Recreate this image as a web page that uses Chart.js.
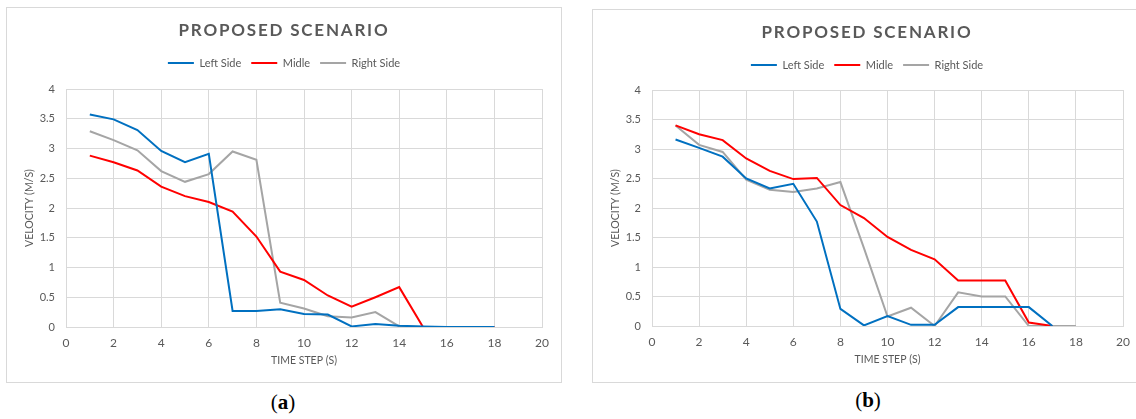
<!DOCTYPE html>
<html>
<head>
  <meta charset="UTF-8" />
  <title>Proposed Scenario - Velocity</title>
  <script src="https://cdn.jsdelivr.net/npm/chart.js"></script>
  <style>
    body {
      margin: 0;
      width: 1136px;
      height: 419px;
      overflow: hidden;
      background: #ffffff;
      position: relative;
      font-family: Lato, sans-serif;
    }
    .panel {
      position: absolute;
      border: 1px solid #d9d9d9;
      box-sizing: border-box;
    }
    .caption {
      position: absolute;
      width: 100px;
      text-align: center;
      font-family: "Liberation Serif", serif;
      font-size: 21px;
      line-height: 24px;
      color: #000;
    }
  </style>
</head>
<body>
  <div class="panel" style="left:6px; top:7px; width:556px; height:376px;"><canvas id="chartA"></canvas></div>
  <div class="panel" style="left:592px; top:9px; width:550px; height:374px;"><canvas id="chartB"></canvas></div>
  <div class="caption" style="left:233px; top:390px;">(<b>a</b>)</div>
  <div class="caption" style="left:818px; top:388px;">(<b>b</b>)</div>

  <script>
    // time steps (s)
    const steps = [1, 2, 3, 4, 5, 6, 7, 8, 9, 10, 11, 12, 13, 14, 15, 16, 17, 18];
    const seriesNames = ['Left Side', 'Midle', 'Right Side'];
    const seriesColors = ['#0070c0', '#ff0000', '#a5a5a5'];

    // (a) velocities (m/s)
    const leftA  = [3.57, 3.49, 3.31, 2.96, 2.77, 2.91, 0.27, 0.27, 0.30, 0.22, 0.21, 0.01, 0.05, 0.02, 0.01, 0, 0, 0];
    const midA   = [2.88, 2.77, 2.63, 2.36, 2.20, 2.10, 1.94, 1.52, 0.93, 0.79, 0.53, 0.34, 0.50, 0.67, 0, 0, 0, 0];
    const rightA = [3.29, 3.14, 2.97, 2.62, 2.44, 2.57, 2.95, 2.81, 0.41, 0.31, 0.18, 0.16, 0.25, 0.01, 0, 0, 0, 0];

    // (b) velocities (m/s)
    const leftB  = [3.16, 3.02, 2.87, 2.50, 2.33, 2.41, 1.77, 0.29, 0.01, 0.17, 0.02, 0.02, 0.32, 0.32, 0.32, 0.32, 0];
    const midB   = [3.40, 3.25, 3.15, 2.84, 2.63, 2.49, 2.51, 2.05, 1.83, 1.51, 1.29, 1.13, 0.77, 0.77, 0.77, 0.06, 0];
    const rightB = [3.40, 3.07, 2.95, 2.48, 2.31, 2.27, 2.33, 2.44, 1.32, 0.16, 0.31, 0, 0.57, 0.50, 0.50, 0, 0, 0];

    Chart.defaults.font.family = 'Lato, sans-serif';
    Chart.defaults.color = '#595959';

    // excel draws the chart title with wider letter spacing
    const spacedTitle = {
      id: 'spacedTitle',
      afterInit(chart) {
        const t = chart.titleBlock;
        if (!t) return;
        const draw = t.draw;
        t.draw = function () {
          chart.ctx.letterSpacing = '1.8px';
          draw.apply(this, arguments);
          chart.ctx.letterSpacing = '0px';
        };
      }
    };

    function makeChart(canvasId, values, box) {
      const datasets = values.map((vals, k) => ({
        label: seriesNames[k],
        data: vals.map((v, i) => ({ x: steps[i], y: v })),
        borderColor: seriesColors[k],
        backgroundColor: seriesColors[k],
        borderWidth: 2,
        pointRadius: 0,
        tension: 0
      }));

      return new Chart(document.getElementById(canvasId), {
        type: 'line',
        data: { datasets: datasets },
        plugins: [spacedTitle],
        options: {
          responsive: true,
          maintainAspectRatio: false,
          animation: false,
          layout: { padding: { top: 0, left: box.side, right: box.side, bottom: 0 } },
          plugins: {
            title: {
              display: true,
              text: 'PROPOSED SCENARIO',
              color: '#595959',
              font: { size: 17, weight: 'bold', lineHeight: 1.2 },
              padding: { top: 12.8, bottom: 6.3 }
            },
            legend: {
              position: 'top',
              labels: {
                usePointStyle: true,
                pointStyle: 'line',
                pointStyleWidth: 26,
                padding: 10,
                color: '#595959',
                font: { size: 11 }
              }
            },
            // empty spacer between legend and plot
            subtitle: {
              display: true,
              text: '',
              weight: 500,
              font: { size: 1, lineHeight: 1 },
              padding: { top: 0, bottom: box.gap }
            },
            tooltip: { enabled: false }
          },
          scales: {
            x: {
              type: 'linear',
              min: 0,
              max: 20,
              afterFit: (s) => { s.height = box.xh; },
              ticks: { stepSize: 2, padding: 9, font: { size: 12 } },
              grid: { color: '#d9d9d9', drawTicks: false },
              border: { color: '#d9d9d9' },
              title: {
                display: true,
                text: 'TIME STEP (S)',
                font: { size: 10.5 },
                padding: { top: 0, bottom: box.xtb }
              }
            },
            y: {
              min: 0,
              max: 4,
              afterFit: (s) => { s.width = 59 - box.side; },
              ticks: {
                stepSize: 0.5,
                padding: 11,
                font: { size: 11 },
                callback: (v) => String(Math.round(v * 100) / 100)
              },
              grid: { color: '#d9d9d9', drawTicks: false },
              border: { color: '#d9d9d9' },
              title: {
                display: true,
                text: 'VELOCITY (M/S)',
                font: { size: 10.5 },
                padding: { top: box.ytp, bottom: 0 }
              }
            }
          }
        }
      });
    }

    makeChart('chartA', [leftA, midA, rightA], { side: 19, gap: 9.5, xh: 55, xtb: 14.7, ytp: -2.3 });
    makeChart('chartB', [leftB, midB, rightB], { side: 18, gap: 8.5, xh: 56, xtb: 15.7, ytp: -1.8 });
  </script>
</body>
</html>
